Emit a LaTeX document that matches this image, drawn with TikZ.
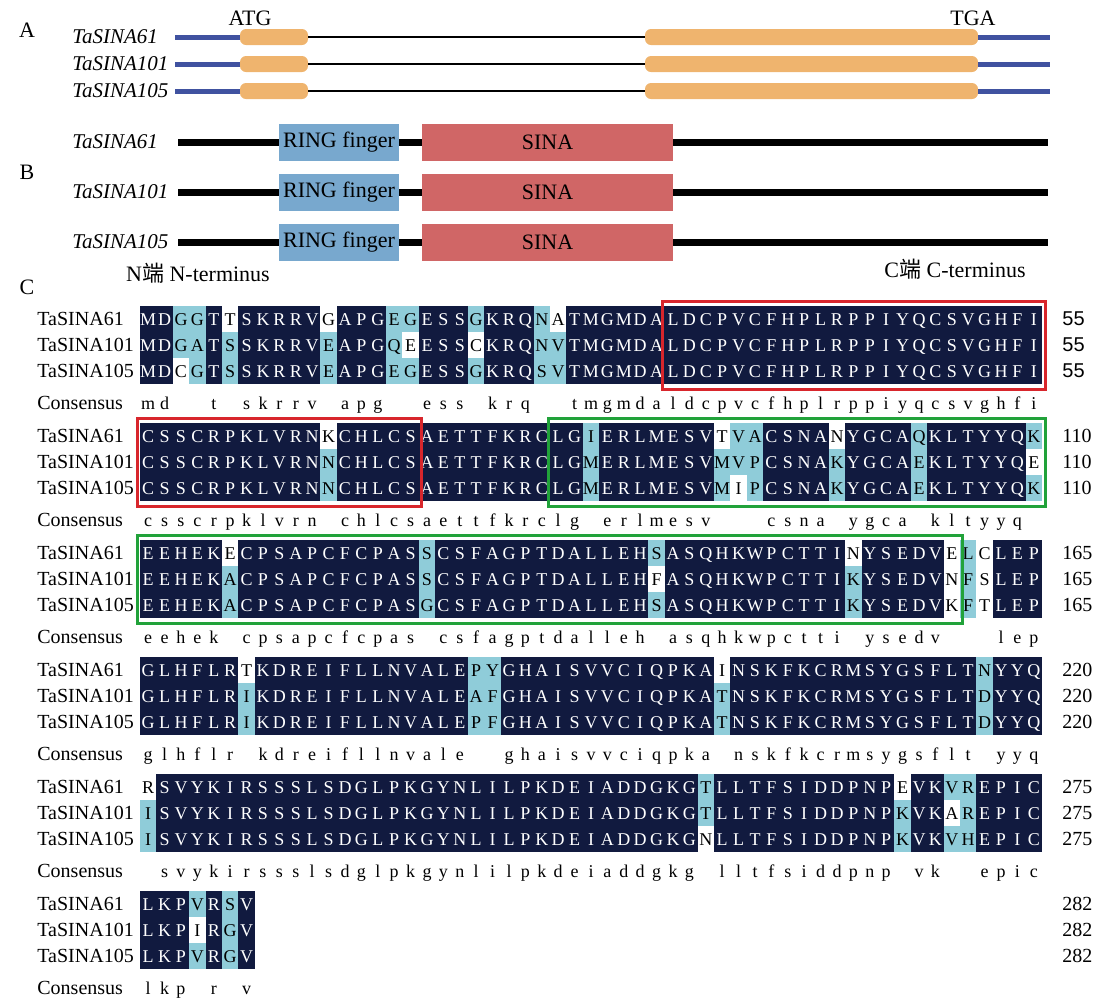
\documentclass[tikz,border=0pt]{standalone}
\usepackage{fontspec}
\setmainfont{Liberation Serif}
\newfontfamily\cjk{Noto Sans CJK SC}
\newfontfamily\arialfont{Liberation Sans}
\usepackage{xstring}
\usetikzlibrary{calc}

\definecolor{navy}{HTML}{111A3F}
\definecolor{lblue}{HTML}{8FCCD9}
\definecolor{exonor}{HTML}{EFB46E}
\definecolor{utrblue}{HTML}{4052A0}
\definecolor{ringblue}{HTML}{78A8CE}
\definecolor{sinared}{HTML}{D06666}
\definecolor{domred}{HTML}{D8262C}
\definecolor{domgreen}{HTML}{21A23A}

\tikzset{
  panel/.style={font=\fontsize{11}{13}\selectfont},
  gname/.style={font=\itshape\fontsize{10.5}{12}\selectfont, anchor=west, inner sep=0pt},
  exon/.style={fill=exonor, rounded corners=3pt, minimum height=8pt, inner sep=0pt},
  utr/.style={utrblue, line width=2.5pt},
  intron/.style={black, line width=0.6pt},
  prot/.style={black, line width=3.5pt},
  ringdom/.style={fill=ringblue, minimum width=60pt, minimum height=18.5pt, inner sep=0pt, font=\fontsize{11}{12}\selectfont},
  sinadom/.style={fill=sinared, minimum width=125.5pt, minimum height=18.5pt, inner sep=0pt, font=\fontsize{11}{12}\selectfont},
  aname/.style={font=\fontsize{10}{12}\selectfont, anchor=west, inner sep=0pt},
  res/.style={font=\fontsize{9}{10}\selectfont, inner sep=0pt, text height=6pt, text depth=0pt},
  boxred/.style={draw=domred, line width=1.5pt},
  boxgreen/.style={draw=domgreen, line width=1.5pt},
}

\begin{document}
\begin{tikzpicture}[x=0.5pt,y=-0.5pt]
\useasboundingbox (0,0) rectangle (1100,1002);

% A: gene structure
\node[panel] (pA) at (27,30) {A};
\node[panel] (atg) at (250,18) {ATG};
\node[panel] (tga) at (973,18) {TGA};
\foreach \g [count=\r] in {TaSINA61,TaSINA101,TaSINA105}{
  \pgfmathsetmacro\yy{37+27*(\r-1)}
  \node[gname] (ga\r) at (72,\yy) {\g};
  \node[exon, minimum width=34pt] (exa\r) at (274,\yy) {};
  \node[exon, minimum width=166.5pt] (exb\r) at (811.5,\yy) {};
  \coordinate (us\r) at (175,\yy);
  \coordinate (ue\r) at (1050,\yy);
  \draw[utr] (us\r) -- (exa\r.west);
  \draw[intron] (exa\r.east) -- (exb\r.west);
  \draw[utr] (exb\r.east) -- (ue\r);
}

% B: protein domains
\node[panel] (pB) at (27,172) {B};
\foreach \g [count=\r] in {TaSINA61,TaSINA101,TaSINA105}{
  \pgfmathsetmacro\yy{142+50*(\r-1)}
  \node[gname] (gb\r) at (72,\yy) {\g};
  \node[ringdom] (ring\r) at (339,\yy) {RING finger};
  \node[sinadom] (sina\r) at (547.5,\yy) {SINA};
  \coordinate (ps\r) at (178,\yy);
  \coordinate (pe\r) at (1048,\yy);
  \draw[prot] (ps\r) -- (ring\r.west);
  \draw[prot] (ring\r.east) -- (sina\r.west);
  \draw[prot] (sina\r.east) -- (pe\r);
}
\node[panel] (nterm) at (198,273) {N{\cjk 端} N-terminus};
\node[panel] (cterm) at (955,269) {C{\cjk 端} C-terminus};

% C: alignment
\node[panel] (pC) at (27,287) {C};
\foreach \sa/\sb/\sc/\sims/\last [count=\k from 0] in {
  MDGGTTSKRRVGAPGEGESSGKRQNATMGMDALDCPVCFHPLRPPIYQCSVGHFI/MDGATSSKRRVEAPGQEESSCKRQNVTMGMDALDCPVCFHPLRPPIYQCSVGHFI/MDCGTSSKRRVEAPGEGESSGKRQSVTMGMDALDCPVCFHPLRPPIYQCSVGHFI/4.16.25/55,
  CSSCRPKLVRNKCHLCSAETTFKRCLGIERLMESVTVACSNANYGCAQKLTYYQK/CSSCRPKLVRNNCHLCSAETTFKRCLGMERLMESVMVPCSNAKYGCAEKLTYYQE/CSSCRPKLVRNNCHLCSAETTFKRCLGMERLMESVMIPCSNAKYGCAEKLTYYQK/28.38.48/110,
  EEHEKECPSAPCFCPASSCSFAGPTDALLEHSASQHKWPCTTINYSEDVELCLEP/EEHEKACPSAPCFCPASSCSFAGPTDALLEHFASQHKWPCTTIKYSEDVNFSLEP/EEHEKACPSAPCFCPASGCSFAGPTDALLEHSASQHKWPCTTIKYSEDVKFTLEP/18.51/165,
  GLHFLRTKDREIFLLNVALEPYGHAISVVCIQPKAINSKFKCRMSYGSFLTNYYQ/GLHFLRIKDREIFLLNVALEAFGHAISVVCIQPKATNSKFKCRMSYGSFLTDYYQ/GLHFLRIKDREIFLLNVALEPFGHAISVVCIQPKATNSKFKCRMSYGSFLTDYYQ/21.22.52/220,
  RSVYKIRSSSLSDGLPKGYNLILPKDEIADDGKGTLLTFSIDDPNPEVKVREPIC/ISVYKIRSSSLSDGLPKGYNLILPKDEIADDGKGTLLTFSIDDPNPKVKAREPIC/ISVYKIRSSSLSDGLPKGYNLILPKDEIADDGKGNLLTFSIDDPNPKVKVHEPIC/51/275,
  LKPVRSV/LKPIRGV/LKPVRGV/6/282}{
  \pgfmathsetmacro\yt{306+117*\k}
  \node[aname] (na\k) at (37,\yt+13) {TaSINA61};
  \node[aname] (nb\k) at (37,\yt+39) {TaSINA101};
  \node[aname] (nc\k) at (37,\yt+65) {TaSINA105};
  \node[aname] (ns\k) at (37,\yt+97) {Consensus};
  \ifnum\k=0 \def\nf{\arialfont}\else\def\nf{}\fi
  \node[aname] (la\k) at (1062,\yt+13) {\nf\last};
  \node[aname] (lb\k) at (1062,\yt+39) {\nf\last};
  \node[aname] (lc\k) at (1062,\yt+65) {\nf\last};
  \StrLen{\sa}[\n]
  \foreach \i in {1,...,\n}{
    \StrChar{\sa}{\i}[\ca]\StrChar{\sb}{\i}[\cb]\StrChar{\sc}{\i}[\cc]
    \def\fa{white}\def\fb{white}\def\fc{white}\def\tx{black}\def\cons{}
    \ifx\ca\cb\def\fa{lblue}\def\fb{lblue}\fi
    \ifx\ca\cc\def\fa{lblue}\def\fc{lblue}\fi
    \ifx\cb\cc\def\fb{lblue}\def\fc{lblue}\fi
    \IfSubStr{.\sims.}{.\i.}{\def\fa{lblue}\def\fb{lblue}\def\fc{lblue}}{}
    \ifx\ca\cb\ifx\cb\cc\def\fa{navy}\def\fb{navy}\def\fc{navy}\def\tx{white}\let\cons\ca\fi\fi
    \pgfmathsetmacro\xl{140+16.4*(\i-1)}
    \fill[\fa] (\xl,\yt) rectangle ++(16.4,26);
    \fill[\fb] (\xl,\yt+26) rectangle ++(16.4,26);
    \fill[\fc] (\xl,\yt+52) rectangle ++(16.4,26);
    \node[res,text=\tx] (a\k-\i) at (\xl+8.2,\yt+13) {\ca};
    \node[res,text=\tx] (b\k-\i) at (\xl+8.2,\yt+39) {\cb};
    \node[res,text=\tx] (c\k-\i) at (\xl+8.2,\yt+65) {\cc};
    \node[res] (s\k-\i) at (\xl+8.2,\yt+97) {\MakeLowercase{\cons}};
  }
}
% RING / SINA regions
\draw[boxred] (662,301) rectangle (1045,389);
\draw[boxred] (137,418) rectangle (421,506);
\draw[boxgreen] (548,418) rectangle (1045,506);
\draw[boxgreen] (137,535) rectangle (962,623);
\end{tikzpicture}
\end{document}
